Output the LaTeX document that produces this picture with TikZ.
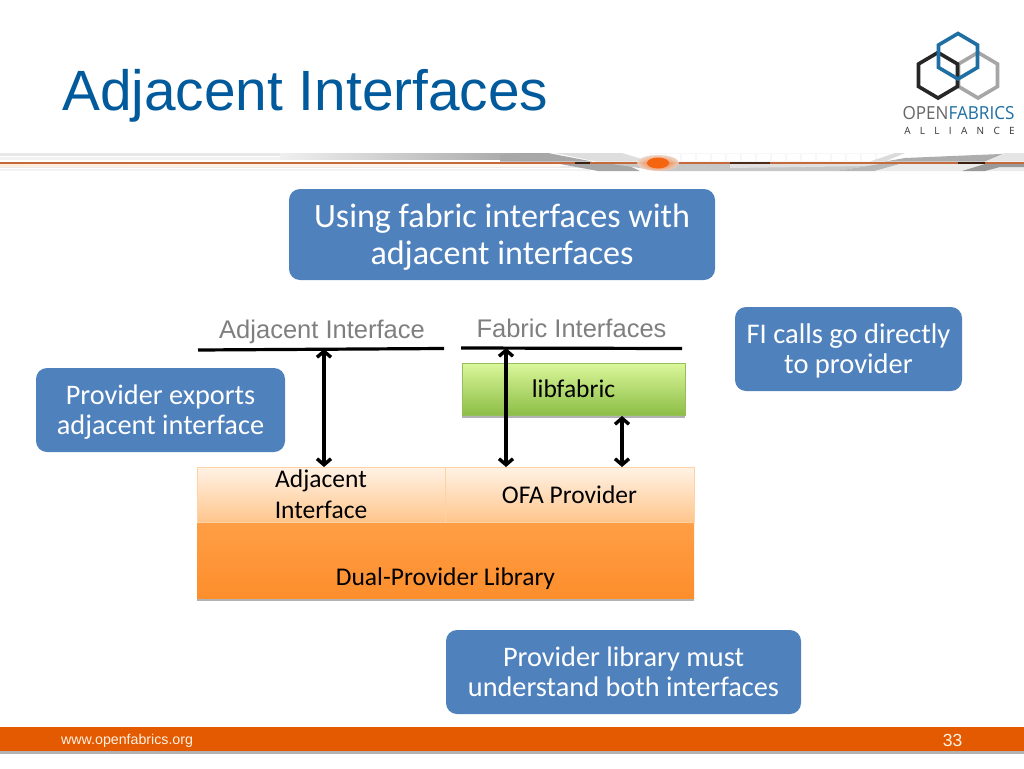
\documentclass[tikz,border=0pt]{standalone}
\usepackage{fontspec}
\setmainfont{Carlito}
\newfontfamily\arialf{Liberation Sans}
\newfontfamily\logof{Open Sans}
\usetikzlibrary{arrows.meta,shadows}
\definecolor{ofblue}{HTML}{4F81BD}
\definecolor{titleblue}{HTML}{005A9C}
\definecolor{logoblue}{HTML}{1F6FA3}
\definecolor{logogray}{HTML}{A6A6A6}
\definecolor{logoblack}{HTML}{262626}
\definecolor{footorange}{HTML}{E35A00}
\definecolor{labelgray}{HTML}{7F7F7F}
\definecolor{bandline}{HTML}{C46A3C}
\definecolor{dualtop}{HTML}{FF9E45}
\definecolor{dualbot}{HTML}{FD8E2C}
\definecolor{glow}{HTML}{F5640F}
\tikzset{
  callout/.style={fill=ofblue,rounded corners=11pt,text=white,align=center,inner sep=0pt},
  layerbox/.style={inner sep=0pt,align=center,text=black,font=\fontsize{25.5}{31}\selectfont},
  softshadow/.style={drop shadow={shadow xshift=0pt,shadow yshift=-2.5pt,fill=black,opacity=.3}},
  hexline/.style={line width=3.6pt,line join=miter},
  iface/.style={line width=3.2pt,black},
  dblarrow/.style={line width=3.4pt,{Straight Barb[length=6pt,width=14pt]}-{Straight Barb[length=6pt,width=14pt]}},
  iflabel/.style={text=labelgray,font=\arialf\fontsize{25.5}{30}\selectfont,inner sep=0pt},
  paleorange/.style={top color=orange!10,bottom color=orange!45,draw=orange!35,line width=.5pt}
}
\begin{document}
\begin{tikzpicture}[x=1pt,y=-1pt]
\useasboundingbox (0,0) rectangle (1024,768);
\fill[white] (0,0) rectangle (1024,768);
% header band, left part
\fill[black!9] (0,153) rectangle (560,156);
\fill[black!5] (0,157) rectangle (560,160);
\fill[black!8] (0,166) rectangle (1024,168);
\fill[black!5] (0,169) rectangle (1024,171);
\shade[left color=black!6,right color=black!38] (280,153.5) rectangle (548,159.5);
\shade[left color=orange!14,right color=orange!6] (0,164) rectangle (560,166);
% header band, middle
\fill[white] (548,153) rectangle (1024,161.5);
\fill[white] (590,164) rectangle (1024,172);
\fill[black!34] (500,155) -- (548,153) -- (592,161.5) -- (500,161.5) -- cycle;
\fill[black!13] (555,153) -- (622,153) -- (650,161.5) -- (596,161.5) -- cycle;
\fill[black!35] (560,164) -- (625,164) -- (640,171) -- (598,171) -- cycle;
\fill[black!22] (612,164) -- (880,164) -- (835,171) -- (660,171) -- cycle;
\fill[black!12] (730,164) -- (880,164) -- (880,166) -- (730,168) -- cycle;
% grid
\fill[black!3] (650,153) rectangle (890,161.5);
\foreach \gx in {652,667,...,885}{\fill[white] (\gx,154) rectangle (\gx+12.5,161);}
% header band, right
\fill[black!14] (870,161.5) -- (895,153) -- (905,153) -- (885,161.5) -- cycle;
\fill[black!32] (885,161.5) -- (905,158) -- (1024,153) -- (1024,155) -- (985,161.5) -- cycle;
\fill[black!10] (985,161.5) -- (1005,153) -- (1024,153) -- (1024,161.5) -- cycle;
\fill[black!28] (835,171) -- (880,164) -- (900,164) -- (875,171) -- cycle;
\fill[black!8] (875,171) -- (900,164) -- (1024,164) -- (1024,171) -- cycle;
\fill[black!40] (962,171) -- (985,164) -- (1024,164) -- (1024,167) -- (1000,167) -- (985,171) -- cycle;
% band line and glow
\fill[bandline] (0,161.5) rectangle (1024,163.5);
\fill[black!70!bandline] (575,161.8) rectangle (590,163.8);
\fill[black!60!bandline] (730,161.8) rectangle (770,163.8);
\fill[black!70!bandline] (958,161.8) rectangle (985,163.8);
\shade[inner color=glow,outer color=bandline!30,opacity=.9] (658,163) ellipse (21pt and 8pt);
\fill[glow] (658,163) ellipse (11pt and 5.5pt);
% title
\node (title) [anchor=west,inner sep=0pt,text=titleblue,font=\arialf\fontsize{56.8}{60}\selectfont] at (62,96) {Adjacent Interfaces};
% logo
\draw[hexline,logogray] (978,52.5) -- (997.5,64) -- (997.5,86.5) -- (978,98) -- (958.5,86.5) -- (958.5,64) -- cycle;
\draw[hexline,logoblack] (938,52.5) -- (957.5,64) -- (957.5,86.5) -- (938,98) -- (918.5,86.5) -- (918.5,64) -- cycle;
\draw[hexline,logoblue] (958,33.5) -- (977.5,45) -- (977.5,67.5) -- (958,79) -- (938.5,67.5) -- (938.5,45) -- cycle;
\node (logotext) [inner sep=0pt] at (958.5,113) {\scalebox{.95}[1]{\logof\fontsize{18}{20}\selectfont\textcolor{black!60}{OPEN}\textcolor{logoblue}{FABRICS}}};
\node (logosub) [inner sep=0pt,text=black!80,font=\logof\fontsize{10}{12}\selectfont] at (959.5,130.5) {A\hspace{9.3pt}L\hspace{9.3pt}L\hspace{9.3pt}I\hspace{9.3pt}A\hspace{9.3pt}N\hspace{9.3pt}C\hspace{9.3pt}E};
% callouts
\node (top) [callout,minimum width=426pt,minimum height=91pt,font=\fontsize{34.1}{37}\selectfont] at (502,234.5) {\rule{0pt}{29pt}Using fabric interfaces with\\adjacent interfaces};
\node (fi) [callout,minimum width=227pt,minimum height=84pt,font=\fontsize{28.5}{30.5}\selectfont] at (848.5,349) {\rule{0pt}{23.5pt}FI calls go directly\\to provider};
\node (exports) [callout,minimum width=249pt,minimum height=84pt,font=\fontsize{28.3}{30.5}\selectfont] at (160.5,410) {\rule{0pt}{23.5pt}Provider exports\\adjacent interface};
\node (must) [callout,minimum width=355pt,minimum height=84pt,font=\fontsize{28.3}{30.5}\selectfont] at (623.5,672) {Provider library must\\understand both interfaces};
% interface labels
\node (adjlabel) [iflabel] at (322,331.5) {Adjacent Interface};
\node (fablabel) [iflabel] at (571.5,328) {Fabric Interfaces};
% layers
\node (dual) [layerbox,softshadow,minimum width=497pt,minimum height=76pt,top color=dualtop,bottom color=dualbot,
  label={[font=\fontsize{25.5}{30}\selectfont,yshift=-19pt]center:Dual-Provider Library}] at (445.5,560) {};
\node (adj) [layerbox,paleorange,minimum width=248pt,minimum height=55pt] at (321,494.5) {Adjacent\\Interface};
\node (ofa) [layerbox,paleorange,minimum width=249pt,minimum height=55pt] at (569.5,494.5) {OFA Provider};
\node (lib) [layerbox,softshadow,minimum width=223pt,minimum height=52pt,top color={rgb,255:red,219;green,247;blue,155},bottom color={rgb,255:red,140;green,190;blue,70},draw={rgb,255:red,150;green,190;blue,90},line width=.5pt] at (573.5,389) {libfabric};
% interface lines
\coordinate (adjL) at (198,350);
\coordinate (adjR) at (444,348.5);
\coordinate (fabL) at (461,348);
\coordinate (fabR) at (682,348.5);
\draw[iface] (adjL) -- (adjR);
\draw[iface] (fabL) -- (fabR);
% arrows
\coordinate (a1t) at (324,349);
\coordinate (a1b) at (324,467);
\coordinate (a2t) at (506,348);
\coordinate (a2b) at (506,467);
\coordinate (a3t) at (622,416);
\coordinate (a3b) at (622,467);
\draw[dblarrow] (a1t) -- (a1b);
\draw[dblarrow] (a2t) -- (a2b);
\draw[dblarrow] (a3t) -- (a3b);
% footer
\fill[black!30] (0,751) rectangle (1024,754);
\fill[footorange] (0,727) rectangle (1024,751);
\node (url) [anchor=west,inner sep=0pt,text=white!90!orange,font=\arialf\fontsize{14.2}{16}\selectfont] at (61,741) {www.openfabrics.org};
\node (page) [inner sep=0pt,text=white!90!orange,font=\arialf\fontsize{17.5}{18}\selectfont] at (952.5,740) {33};
\end{tikzpicture}
\end{document}
